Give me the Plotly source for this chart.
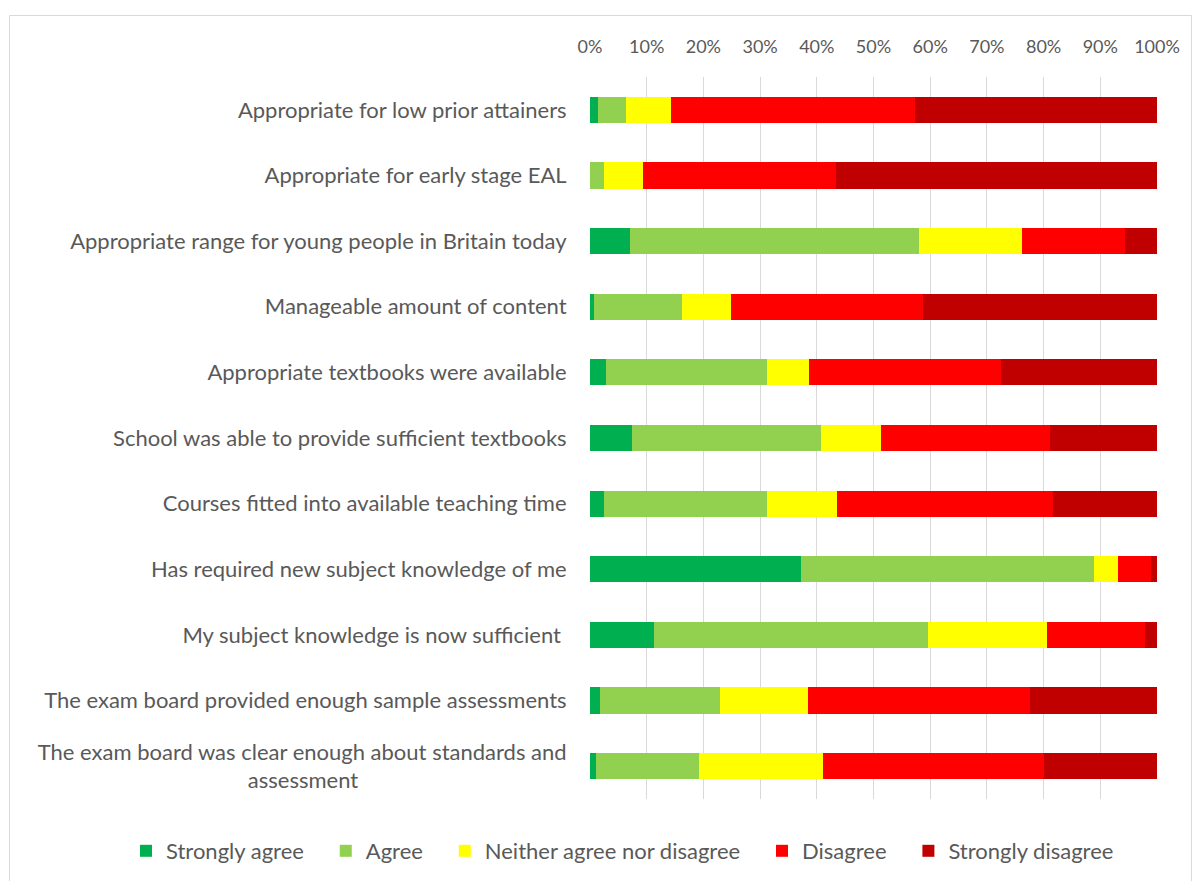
import plotly.graph_objects as go

categories = [
    "Appropriate for low prior attainers",
    "Appropriate for early stage EAL",
    "Appropriate range for young people in Britain today",
    "Manageable amount of content",
    "Appropriate textbooks were available",
    "School was able to provide sufficient textbooks",
    "Courses fitted into available teaching time",
    "Has required new subject knowledge of me",
    "My subject knowledge is now sufficient\u00a0",
    "The exam board provided enough sample assessments",
    "The exam board was clear enough about standards and<br>assessment" + "\u00a0" * 37,
]

strongly_agree = [1.4, 0.0, 7.0, 0.7, 2.8, 7.4, 2.5, 37.3, 11.2, 1.7, 1.0]
agree = [4.9, 2.5, 51.0, 15.5, 28.4, 33.3, 28.7, 51.6, 48.4, 21.3, 18.2]
neither = [8.0, 6.8, 18.2, 8.6, 7.5, 10.6, 12.3, 4.2, 21.0, 15.5, 21.9]
disagree = [43.0, 34.1, 18.2, 33.9, 33.7, 29.8, 38.2, 5.8, 17.2, 39.1, 38.9]
strongly_disagree = [42.7, 56.6, 5.6, 41.3, 27.6, 18.9, 18.3, 1.1, 2.2, 22.4, 20.0]

series_names = ["Strongly agree", "Agree", "Neither agree nor disagree",
                "Disagree", "Strongly disagree"]
series_values = [strongly_agree, agree, neither, disagree, strongly_disagree]
series_colors = ["#00B050", "#92D050", "#FFFF00", "#FF0000", "#C00000"]

FONT = "Lato, 'Open Sans', sans-serif"
TXT = "#595959"
PAD = "\u00a0" * 3  # extra spacing between legend entries

fig = go.Figure()
for i, (name, vals, color) in enumerate(zip(series_names, series_values, series_colors)):
    label = name + (PAD if i < len(series_names) - 1 else "")
    fig.add_trace(go.Bar(
        y=categories, x=vals, name=label, orientation="h",
        marker=dict(color=color, line=dict(width=0)),
        hovertemplate="%{y}: %{x}%<extra>" + name + "</extra>",
    ))

W, H = 1200, 881
L, R, T, B = 590, 43, 77, 82
pw = W - L - R
ph = H - T - B

fig.update_layout(
    width=W, height=H,
    barmode="stack", bargap=0.6,
    plot_bgcolor="white", paper_bgcolor="white",
    margin=dict(l=L, r=R, t=T, b=B, autoexpand=False),
    font=dict(family=FONT, size=22, color=TXT),
    showlegend=True,
    legend=dict(
        orientation="h", xref="paper", yref="paper",
        x=(126 - L) / pw, xanchor="left",
        y=-(851 - (H - B)) / ph, yanchor="middle",
        font=dict(size=22, color=TXT), traceorder="normal",
        itemwidth=30, tracegroupgap=0, bgcolor="rgba(0,0,0,0)",
    ),
    xaxis=dict(
        side="top", range=[0, 100], dtick=10, ticksuffix="%",
        showgrid=True, gridcolor="#D9D9D9", gridwidth=1.3,
        zeroline=False, showline=False,
        ticks="outside", ticklen=16, tickcolor="rgba(0,0,0,0)",
        tickfont=dict(size=18, color=TXT, family=FONT),
        fixedrange=True,
    ),
    yaxis=dict(
        autorange="reversed", showgrid=False, zeroline=False, showline=False,
        ticks="outside", ticklen=18, tickcolor="rgba(0,0,0,0)",
        tickfont=dict(size=22, color=TXT, family=FONT),
        fixedrange=True,
    ),
    shapes=[dict(
        type="rect", xref="paper", yref="paper",
        x0=(9.5 - L) / pw, x1=(1191.5 - L) / pw,
        y0=-(H - T + 20 - ph) / ph - 0.1, y1=1 + (T - 15.5) / ph,
        line=dict(color="#D9D9D9", width=1), fillcolor="rgba(0,0,0,0)",
        layer="below",
    )],
)

fig.write_html(
    "out.html",
    config={"displayModeBar": False},
    post_script="document.body.style.margin='0';document.body.style.overflow='hidden';",
)
